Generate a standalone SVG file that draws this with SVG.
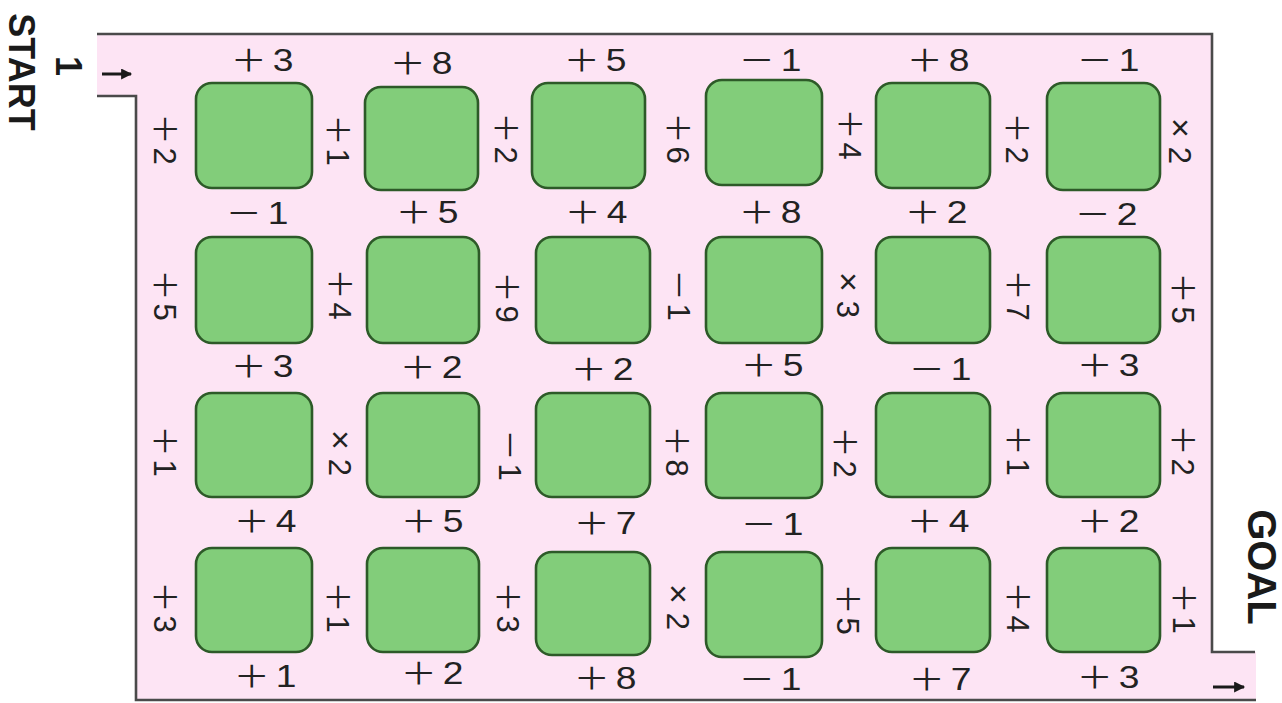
<svg xmlns="http://www.w3.org/2000/svg" width="1282" height="703" viewBox="0 0 1282 703">
<style>
.bg{fill:#ffffff}
.pink{fill:#fde4f4;stroke:none}
.wall{fill:none;stroke:#4a4a4a;stroke-width:2.6}
.box{fill:#82cd7a;stroke:#2d5a28;stroke-width:2.6}
.lbl{font-family:"Liberation Sans",Arial,sans-serif;font-size:31px;fill:#222;text-anchor:middle}
.sg{font-family:"Noto Sans CJK JP","Liberation Sans",sans-serif;font-size:30px}
.sv{font-family:"Noto Sans CJK JP","Liberation Sans",sans-serif;font-size:31px}
.tm{font-size:34px}
.big{font-family:"Liberation Sans",Arial,sans-serif;font-weight:bold;fill:#1a1a1a;text-anchor:middle}
.arr{fill:none;stroke:#1a1a1a;stroke-width:3}
</style>
<defs>
<marker id="ah" viewBox="0 0 10 10" refX="9" refY="5" markerWidth="12" markerHeight="11" markerUnits="userSpaceOnUse" orient="auto">
<path d="M0,0 L10,5 L0,10 z" fill="#1a1a1a"/>
</marker>
</defs>
<rect class="bg" x="0" y="0" width="1282" height="703"/>
<g id="frame">
<path class="pink" d="M97,34 H1212 V652 H1256 V700 H136 V96 H97 Z"/>
<path class="wall" d="M97,34 H1212 V652 H1255"/>
<path class="wall" d="M97,96 H136 V700 H1256"/>
</g>
<g id="boxes">
<g id="b11"><rect class="box" x="196" y="83" width="116" height="105" rx="16"/></g>
<g id="b12"><rect class="box" x="365" y="87" width="113" height="103" rx="16"/></g>
<g id="b13"><rect class="box" x="532" y="83" width="113" height="105" rx="16"/></g>
<g id="b14"><rect class="box" x="706" y="80" width="116" height="105" rx="16"/></g>
<g id="b15"><rect class="box" x="876" y="83" width="114" height="105" rx="16"/></g>
<g id="b16"><rect class="box" x="1047" y="83" width="113" height="107" rx="16"/></g>
<g id="b21"><rect class="box" x="196" y="237" width="116" height="106" rx="16"/></g>
<g id="b22"><rect class="box" x="367" y="237" width="112" height="106" rx="16"/></g>
<g id="b23"><rect class="box" x="536" y="237" width="114" height="106" rx="16"/></g>
<g id="b24"><rect class="box" x="706" y="237" width="116" height="106" rx="16"/></g>
<g id="b25"><rect class="box" x="876" y="237" width="114" height="106" rx="16"/></g>
<g id="b26"><rect class="box" x="1047" y="237" width="113" height="106" rx="16"/></g>
<g id="b31"><rect class="box" x="196" y="393" width="116" height="104" rx="16"/></g>
<g id="b32"><rect class="box" x="367" y="393" width="112" height="104" rx="16"/></g>
<g id="b33"><rect class="box" x="536" y="393" width="114" height="104" rx="16"/></g>
<g id="b34"><rect class="box" x="706" y="393" width="116" height="105" rx="16"/></g>
<g id="b35"><rect class="box" x="876" y="393" width="114" height="104" rx="16"/></g>
<g id="b36"><rect class="box" x="1047" y="393" width="113" height="104" rx="16"/></g>
<g id="b41"><rect class="box" x="196" y="548" width="116" height="104" rx="16"/></g>
<g id="b42"><rect class="box" x="367" y="548" width="112" height="104" rx="16"/></g>
<g id="b43"><rect class="box" x="536" y="552" width="114" height="103" rx="16"/></g>
<g id="b44"><rect class="box" x="706" y="552" width="116" height="105" rx="16"/></g>
<g id="b45"><rect class="box" x="876" y="548" width="114" height="104" rx="16"/></g>
<g id="b46"><rect class="box" x="1047" y="548" width="113" height="104" rx="16"/></g>
</g>
<g id="connectors">
<path class="arr" d="M102,74 H131" marker-end="url(#ah)"/>
<path class="arr" d="M1213,687 H1244" marker-end="url(#ah)"/>
</g>
<g id="ends">
<text class="big" font-size="36" transform="translate(22,72) rotate(90)" y="12.8">START</text>
<text class="big" font-size="36" transform="translate(69,66) rotate(90)" y="13">1</text>
<text class="big" font-size="40" transform="translate(1262,567) rotate(90)" y="14.3">GOAL</text>
</g>
<g id="hlabels">
<text class="lbl" y="11" transform="translate(262,60) scale(1.2,1)"><tspan class="sg">＋</tspan><tspan dx="5">3</tspan></text>
<text class="lbl" y="11" transform="translate(421,63) scale(1.2,1)"><tspan class="sg">＋</tspan><tspan dx="5">8</tspan></text>
<text class="lbl" y="11" transform="translate(595,60) scale(1.2,1)"><tspan class="sg">＋</tspan><tspan dx="5">5</tspan></text>
<text class="lbl" y="11" transform="translate(770,60) scale(1.2,1)"><tspan class="sg">－</tspan><tspan dx="5">1</tspan></text>
<text class="lbl" y="11" transform="translate(938,60) scale(1.2,1)"><tspan class="sg">＋</tspan><tspan dx="5">8</tspan></text>
<text class="lbl" y="11" transform="translate(1108,60) scale(1.2,1)"><tspan class="sg">－</tspan><tspan dx="5">1</tspan></text>

<text class="lbl" y="11" transform="translate(257,213) scale(1.2,1)"><tspan class="sg">－</tspan><tspan dx="5">1</tspan></text>
<text class="lbl" y="11" transform="translate(427,212) scale(1.2,1)"><tspan class="sg">＋</tspan><tspan dx="5">5</tspan></text>
<text class="lbl" y="11" transform="translate(596,212) scale(1.2,1)"><tspan class="sg">＋</tspan><tspan dx="5">4</tspan></text>
<text class="lbl" y="11" transform="translate(770,212) scale(1.2,1)"><tspan class="sg">＋</tspan><tspan dx="5">8</tspan></text>
<text class="lbl" y="11" transform="translate(936,212) scale(1.2,1)"><tspan class="sg">＋</tspan><tspan dx="5">2</tspan></text>
<text class="lbl" y="11" transform="translate(1106,214) scale(1.2,1)"><tspan class="sg">－</tspan><tspan dx="5">2</tspan></text>

<text class="lbl" y="11" transform="translate(262,366) scale(1.2,1)"><tspan class="sg">＋</tspan><tspan dx="5">3</tspan></text>
<text class="lbl" y="11" transform="translate(431,367) scale(1.2,1)"><tspan class="sg">＋</tspan><tspan dx="5">2</tspan></text>
<text class="lbl" y="11" transform="translate(602,369) scale(1.2,1)"><tspan class="sg">＋</tspan><tspan dx="5">2</tspan></text>
<text class="lbl" y="11" transform="translate(772,365) scale(1.2,1)"><tspan class="sg">＋</tspan><tspan dx="5">5</tspan></text>
<text class="lbl" y="11" transform="translate(940,369) scale(1.2,1)"><tspan class="sg">－</tspan><tspan dx="5">1</tspan></text>
<text class="lbl" y="11" transform="translate(1108,365) scale(1.2,1)"><tspan class="sg">＋</tspan><tspan dx="5">3</tspan></text>

<text class="lbl" y="11" transform="translate(265,521) scale(1.2,1)"><tspan class="sg">＋</tspan><tspan dx="5">4</tspan></text>
<text class="lbl" y="11" transform="translate(432,521) scale(1.2,1)"><tspan class="sg">＋</tspan><tspan dx="5">5</tspan></text>
<text class="lbl" y="11" transform="translate(605,523) scale(1.2,1)"><tspan class="sg">＋</tspan><tspan dx="5">7</tspan></text>
<text class="lbl" y="11" transform="translate(772,524) scale(1.2,1)"><tspan class="sg">－</tspan><tspan dx="5">1</tspan></text>
<text class="lbl" y="11" transform="translate(938,521) scale(1.2,1)"><tspan class="sg">＋</tspan><tspan dx="5">4</tspan></text>
<text class="lbl" y="11" transform="translate(1108,521) scale(1.2,1)"><tspan class="sg">＋</tspan><tspan dx="5">2</tspan></text>

<text class="lbl" y="11" transform="translate(265,676) scale(1.2,1)"><tspan class="sg">＋</tspan><tspan dx="5">1</tspan></text>
<text class="lbl" y="11" transform="translate(432,673) scale(1.2,1)"><tspan class="sg">＋</tspan><tspan dx="5">2</tspan></text>
<text class="lbl" y="11" transform="translate(605,678) scale(1.2,1)"><tspan class="sg">＋</tspan><tspan dx="5">8</tspan></text>
<text class="lbl" y="11" transform="translate(770,679) scale(1.2,1)"><tspan class="sg">－</tspan><tspan dx="5">1</tspan></text>
<text class="lbl" y="11" transform="translate(940,679) scale(1.2,1)"><tspan class="sg">＋</tspan><tspan dx="5">7</tspan></text>
<text class="lbl" y="11" transform="translate(1108,677) scale(1.2,1)"><tspan class="sg">＋</tspan><tspan dx="5">3</tspan></text>
</g>
<g id="vlabels">
<text class="lbl" y="11" transform="translate(165,139) rotate(90)"><tspan class="sv">＋</tspan><tspan dx="3">2</tspan></text>
<text class="lbl" y="11" transform="translate(338,140) rotate(90)"><tspan class="sv">＋</tspan><tspan dx="3">1</tspan></text>
<text class="lbl" y="11" transform="translate(506,138) rotate(90)"><tspan class="sv">＋</tspan><tspan dx="3">2</tspan></text>
<text class="lbl" y="11" transform="translate(678,138) rotate(90)"><tspan class="sv">＋</tspan><tspan dx="3">6</tspan></text>
<text class="lbl" y="11" transform="translate(850,134) rotate(90)"><tspan class="sv">＋</tspan><tspan dx="3">4</tspan></text>
<text class="lbl" y="11" transform="translate(1017,138) rotate(90)"><tspan class="sv">＋</tspan><tspan dx="3">2</tspan></text>
<text class="lbl" y="11" transform="translate(1180,141) rotate(90)"><tspan class="tm">×</tspan><tspan dx="9">2</tspan></text>

<text class="lbl" y="11" transform="translate(165,295) rotate(90)"><tspan class="sv">＋</tspan><tspan dx="3">5</tspan></text>
<text class="lbl" y="11" transform="translate(340,294) rotate(90)"><tspan class="sv">＋</tspan><tspan dx="3">4</tspan></text>
<text class="lbl" y="11" transform="translate(507,297) rotate(90)"><tspan class="sv">＋</tspan><tspan dx="3">9</tspan></text>
<text class="lbl" y="11" transform="translate(679,295) rotate(90)"><tspan class="sv">－</tspan><tspan dx="3">1</tspan></text>
<text class="lbl" y="11" transform="translate(848,295) rotate(90)"><tspan class="tm">×</tspan><tspan dx="9">3</tspan></text>
<text class="lbl" y="11" transform="translate(1018,295) rotate(90)"><tspan class="sv">＋</tspan><tspan dx="3">7</tspan></text>
<text class="lbl" y="11" transform="translate(1183,298) rotate(90)"><tspan class="sv">＋</tspan><tspan dx="3">5</tspan></text>

<text class="lbl" y="11" transform="translate(165,451) rotate(90)"><tspan class="sv">＋</tspan><tspan dx="3">1</tspan></text>
<text class="lbl" y="11" transform="translate(340,453) rotate(90)"><tspan class="tm">×</tspan><tspan dx="9">2</tspan></text>
<text class="lbl" y="11" transform="translate(510,455) rotate(90)"><tspan class="sv">－</tspan><tspan dx="3">1</tspan></text>
<text class="lbl" y="11" transform="translate(677,451) rotate(90)"><tspan class="sv">＋</tspan><tspan dx="3">8</tspan></text>
<text class="lbl" y="11" transform="translate(845,452) rotate(90)"><tspan class="sv">＋</tspan><tspan dx="3">2</tspan></text>
<text class="lbl" y="11" transform="translate(1018,450) rotate(90)"><tspan class="sv">＋</tspan><tspan dx="3">1</tspan></text>
<text class="lbl" y="11" transform="translate(1183,450) rotate(90)"><tspan class="sv">＋</tspan><tspan dx="3">2</tspan></text>

<text class="lbl" y="11" transform="translate(165,607) rotate(90)"><tspan class="sv">＋</tspan><tspan dx="3">3</tspan></text>
<text class="lbl" y="11" transform="translate(338,607) rotate(90)"><tspan class="sv">＋</tspan><tspan dx="3">1</tspan></text>
<text class="lbl" y="11" transform="translate(508,607) rotate(90)"><tspan class="sv">＋</tspan><tspan dx="3">3</tspan></text>
<text class="lbl" y="11" transform="translate(678,607) rotate(90)"><tspan class="tm">×</tspan><tspan dx="9">2</tspan></text>
<text class="lbl" y="11" transform="translate(848,609) rotate(90)"><tspan class="sv">＋</tspan><tspan dx="3">5</tspan></text>
<text class="lbl" y="11" transform="translate(1018,607) rotate(90)"><tspan class="sv">＋</tspan><tspan dx="3">4</tspan></text>
<text class="lbl" y="11" transform="translate(1184,608) rotate(90)"><tspan class="sv">＋</tspan><tspan dx="3">1</tspan></text>
</g>
</svg>
